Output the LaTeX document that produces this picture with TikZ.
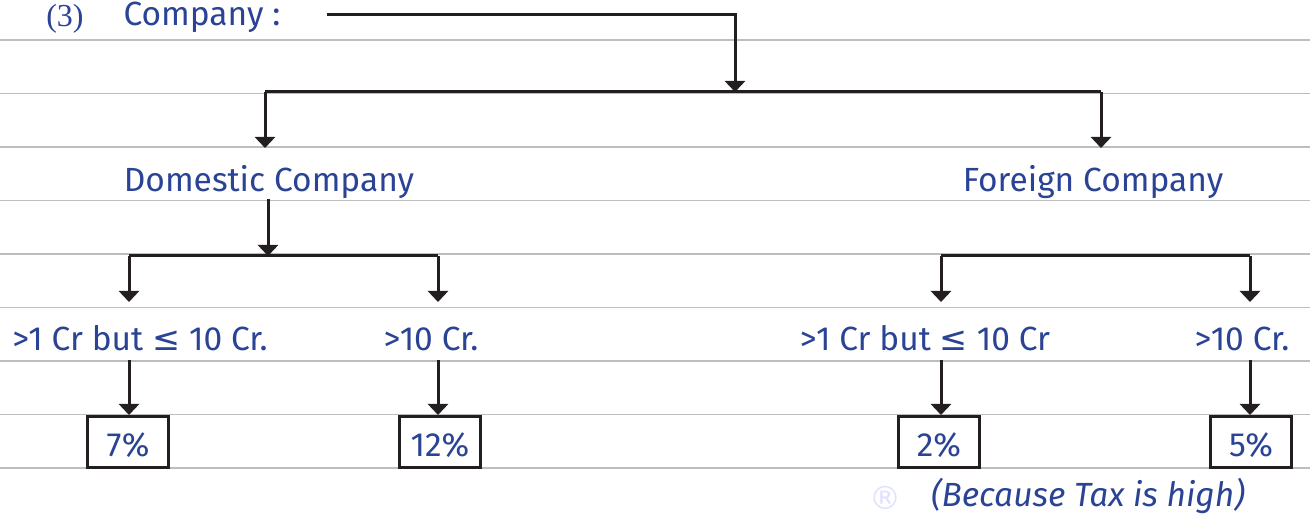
\documentclass[tikz,border=0pt]{standalone}
\usepackage{fontspec}
\setmainfont{Fira Sans}
\newfontfamily\numfont{Liberation Serif}
\newfontfamily\symfont{DejaVu Sans}
\usetikzlibrary{arrows.meta}
\definecolor{inkblue}{HTML}{2A4394}
\definecolor{inkblack}{HTML}{231F20}
\definecolor{rule}{HTML}{BDBDBD}

\begin{document}
\begin{tikzpicture}[x=1pt,y=-1pt,
  label/.style={inner sep=0,anchor=base,text=inkblue,font=\fontsize{33.5}{34}\selectfont},
  rate/.style={draw=inkblack,line width=3pt,minimum width=81pt,minimum height=51pt,inner sep=0,text height=30pt,text depth=0pt,text=inkblue,font=\fontsize{33.5}{34}\selectfont},
  link/.style={draw=inkblack,line width=3pt},
  arr/.style={link,-{Triangle[width=20pt,length=11pt]}}]
  \useasboundingbox (0,0) rectangle (1310,518);
  \foreach \y in {40,93.5,147,200.5,254,307.5,361,414.5,468}
    \draw[rule,line width=1.6pt] (0,\y) -- (1310,\y);
  \node (num) [label,font=\fontsize{32}{32}\numfont] at (65,27) {(3)};
  \node (company) [label] at (202,26) {Company :};
  \node (domestic) [label] at (269,192) {Domestic Company};
  \node (foreign) [label] at (1093,192) {Foreign Company};
  \node (dlow) [label] at (140,351) {>1 Cr but {\symfont ≤} 10 Cr.};
  \node (dhigh) [label] at (431,351) {>10 Cr.};
  \node (flow) [label] at (925,351) {>1 Cr but {\symfont ≤} 10 Cr};
  \node (fhigh) [label] at (1242,351) {>10 Cr.};
  \node (r7) [rate] at (128,442) {7\%};
  \node (r12) [rate] at (440,442) {12\%};
  \node (r2) [rate] at (939,442) {2\%};
  \node (r5) [rate] at (1251,442) {5\%};
  \node (note) [label,font=\fontsize{33.5}{34}\selectfont\itshape] at (1088,507) {(Because Tax is high)};
  \node (mark) [label,text=blue!12,font=\fontsize{32}{32}\symfont] at (885,509) {®};
  \coordinate (lead) at (327,15);
  \coordinate (hub) at (735,92);
  \coordinate (hubL) at (265,92);
  \coordinate (hubR) at (1101,92);
  \coordinate (dtop) at (268,199);
  \coordinate (dhub) at (268,256);
  \coordinate (dhubL) at (129,256);
  \coordinate (dhubR) at (438,256);
  \coordinate (fhubL) at (941,256);
  \coordinate (fhubR) at (1250,256);
  \draw[arr] (lead) -| (hub);
  \draw[link] (hubL) -- (hubR);
  \draw[arr] (hubL) -- ++(0,56);
  \draw[arr] (hubR) -- ++(0,56);
  \draw[arr] (dtop) -- (dhub);
  \draw[link] (dhubL) -- (dhubR);
  \draw[arr] (dhubL) -- ++(0,46);
  \draw[arr] (dhubR) -- ++(0,46);
  \draw[link] (fhubL) -- (fhubR);
  \draw[arr] (fhubL) -- ++(0,46);
  \draw[arr] (fhubR) -- ++(0,46);
  \draw[arr] (r7.north -| dhubL) ++(0,-55) -- (r7.north -| dhubL);
  \draw[arr] (r12.north -| dhubR) ++(0,-55) -- (r12.north -| dhubR);
  \draw[arr] (r2.north -| fhubL) ++(0,-55) -- (r2.north -| fhubL);
  \draw[arr] (r5.north -| fhubR) ++(0,-55) -- (r5.north -| fhubR);
\end{tikzpicture}
\end{document}
